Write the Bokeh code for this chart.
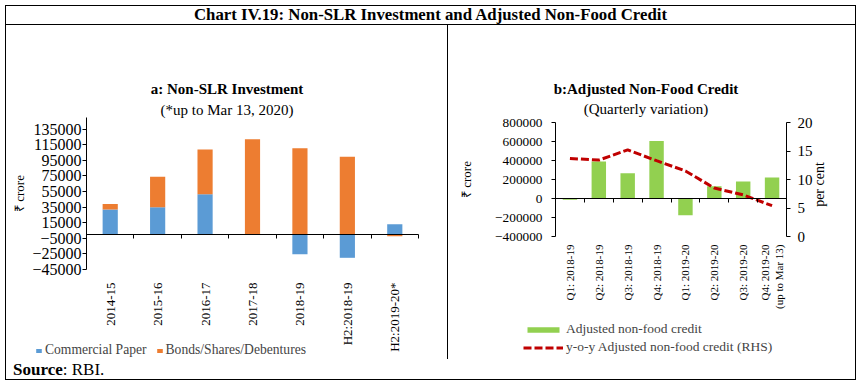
import math
from bokeh.plotting import figure
from bokeh.models import (ColumnDataSource, Range1d, LinearAxis, Legend, LegendItem,
                          Label, Div, FixedTicker, BasicTickFormatter)
from bokeh.layouts import column, row
from bokeh.embed import file_html
from bokeh.resources import INLINE

FONT = "Liberation Serif"

# ---------------- data: panel a ----------------
years_a = ["2014-15", "2015-16", "2016-17", "2017-18", "2018-19", "H2:2018-19", "H2:2019-20*"]
commercial_paper = [32000, 35000, 51500, 0, -25500, -30000, 13000]
bonds_shares_debentures = [7000, 39000, 57500, 122000, 110500, 99500, -2500]
ticks_a = [-45000, -25000, -5000, 15000, 35000, 55000, 75000, 95000, 115000, 135000]
yrange_a = (-45000, 150000)

# ---------------- data: panel b ----------------
quarters_b = ["Q1: 2018-19", "Q2: 2018-19", "Q3: 2018-19", "Q4: 2018-19",
              "Q1: 2019-20", "Q2: 2019-20", "Q3: 2019-20", "Q4: 2019-20\n(up to Mar 13)"]
adj_nonfood_credit = [-12000, 390000, 265000, 605000, -175000, 130000, 180000, 220000]
yoy_adj_nonfood = [13.7, 13.4, 15.2, 13.3, 11.5, 8.5, 7.3, 5.4]
ticks_b_left = [-400000, -200000, 0, 200000, 400000, 600000, 800000]
ticks_b_right = [0, 5, 10, 15, 20]
yrange_b = (-400000, 800000)
yrange_b_pct = (0, 20)

BLUE = "#5B9BD5"
ORANGE = "#ED7D31"
GREEN = "#92D050"
RED = "#C00000"


def stack(series_list):
    """Excel-like stacking: positives upward, negatives downward."""
    n = len(series_list[0])
    pos = [0.0] * n
    neg = [0.0] * n
    out = []
    for s in series_list:
        b, t = [], []
        for i, v in enumerate(s):
            if v >= 0:
                b.append(pos[i]); t.append(pos[i] + v); pos[i] += v
            else:
                b.append(neg[i] + v); t.append(neg[i]); neg[i] += v
        out.append((b, t))
    return out


def extend(lo, hi, p_lo, p_hi, total):
    """Range whose [lo, hi] part occupies pixels p_lo..p_hi of a frame 'total' px long."""
    k = (hi - lo) / (p_hi - p_lo)
    return Range1d(lo - p_lo * k, hi + (total - p_hi) * k)


def style_axis(ax, size="14px"):
    ax.formatter = BasicTickFormatter(use_scientific=False)
    ax.major_label_text_font = FONT
    ax.major_label_text_font_size = size
    ax.major_label_text_color = "black"
    ax.axis_label_text_font = FONT
    ax.axis_label_text_font_size = "13px"
    ax.axis_label_text_font_style = "normal"
    ax.axis_label_text_color = "black"
    ax.axis_line_color = "black"
    ax.major_tick_line_color = "black"
    ax.minor_tick_line_color = None
    ax.major_tick_in = 0
    ax.major_tick_out = 4


def label(fig, text, x, y, size="15px", style="normal", angle=0.0):
    fig.add_layout(Label(x=x, y=y, x_units="screen", y_units="screen", text=text,
                         angle=angle, text_align="center", text_baseline="middle",
                         text_font=FONT, text_font_size=size, text_font_style=style,
                         text_color="black"))


# ================= panel a =================
WA, HA = 441, 334
LA, RA, TA, BA = 80, 412, 92, 244          # plot-area box inside the canvas
n_a = len(years_a)
xs_a = [i + 0.5 for i in range(n_a)]
(cp_b, cp_t), (bd_b, bd_t) = stack([commercial_paper, bonds_shares_debentures])
src_a = ColumnDataSource(dict(x=xs_a, cp_b=cp_b, cp_t=cp_t, bd_b=bd_b, bd_t=bd_t))

pa = figure(width=WA, height=HA, output_backend="svg", toolbar_location=None,
            x_range=extend(0, n_a, LA, RA, WA),
            y_range=extend(yrange_a[0], yrange_a[1], HA - BA, HA - TA, HA),
            x_axis_type=None, y_axis_type=None, min_border=0)
pa.outline_line_color = None
pa.border_fill_color = "white"
pa.xgrid.visible = False
pa.ygrid.visible = False

r_cp = pa.vbar(x="x", bottom="cp_b", top="cp_t", width=0.32, source=src_a,
               fill_color=BLUE, line_color=None)
r_bd = pa.vbar(x="x", bottom="bd_b", top="bd_t", width=0.32, source=src_a,
               fill_color=ORANGE, line_color=None)

ya = LinearAxis(ticker=FixedTicker(ticks=ticks_a), axis_label="₹ crore",
                fixed_location=0, bounds=yrange_a)
style_axis(ya, "16px")
ya.major_label_standoff = 1
ya.axis_label_standoff = 2
pa.add_layout(ya, "left")

xa0 = LinearAxis(ticker=FixedTicker(ticks=list(range(1, n_a + 1))), fixed_location=0,
                 bounds=(0, n_a))
style_axis(xa0)
xa0.major_label_text_color = None
xa0.major_tick_out = 4
pa.add_layout(xa0, "below")

xal = LinearAxis(ticker=FixedTicker(ticks=xs_a), fixed_location=yrange_a[0], bounds=(0, n_a),
                 major_label_overrides={x: lab for x, lab in zip(xs_a, years_a)})
style_axis(xal, "13px")
xal.axis_line_color = None
xal.major_tick_line_color = None
xal.major_tick_out = 0
xal.major_label_orientation = math.pi / 2
xal.major_label_standoff = 13
pa.add_layout(xal, "below")

label(pa, "a: Non-SLR Investment", 220.5, HA - 63, style="bold")
label(pa, "(*up to Mar 13, 2020)", 220.5, HA - 84)

leg_a = Legend(items=[LegendItem(label="Commercial Paper", renderers=[r_cp]),
                      LegendItem(label="Bonds/Shares/Debentures", renderers=[r_bd])],
               orientation="horizontal", location=(29, 1),
               glyph_width=7, glyph_height=5, label_standoff=3, spacing=9,
               padding=0, margin=0, border_line_color=None, background_fill_alpha=0,
               label_text_font=FONT, label_text_font_size="13.6px", label_height=16)
pa.add_layout(leg_a, "center")

# ================= panel b =================
WB, HB = 407, 334
LB, RB, TB, BB = 107, 338, 97, 211
n_b = len(quarters_b)
xs_b = [i + 0.5 for i in range(n_b)]
src_b = ColumnDataSource(dict(x=xs_b, credit=adj_nonfood_credit, yoy=yoy_adj_nonfood))

pb = figure(width=WB, height=HB, output_backend="svg", toolbar_location=None,
            x_range=extend(0, n_b, LB, RB, WB),
            y_range=extend(yrange_b[0], yrange_b[1], HB - BB, HB - TB, HB),
            x_axis_type=None, y_axis_type=None, min_border=0)
pb.extra_y_ranges = {"pct": extend(yrange_b_pct[0], yrange_b_pct[1], HB - BB, HB - TB, HB)}
pb.outline_line_color = None
pb.border_fill_color = "white"
pb.xgrid.visible = False
pb.ygrid.visible = False

r_cr = pb.vbar(x="x", top="credit", bottom=0, width=0.5, source=src_b,
               fill_color=GREEN, line_color=None)
r_yoy = pb.line(x="x", y="yoy", source=src_b, y_range_name="pct",
                line_color=RED, line_width=3, line_dash="8 3")

yb = LinearAxis(ticker=FixedTicker(ticks=ticks_b_left), axis_label="₹ crore",
                fixed_location=0, bounds=yrange_b)
style_axis(yb, "13.3px")
yb.major_label_standoff = 9
yb.axis_label_standoff = 18
pb.add_layout(yb, "left")

yr = LinearAxis(ticker=FixedTicker(ticks=ticks_b_right), y_range_name="pct",
                fixed_location=n_b, bounds=yrange_b_pct)
style_axis(yr, "15px")
yr.major_label_standoff = 7
pb.add_layout(yr, "right")
label(pb, "per cent", 371, HB - 159, size="14px", angle=math.pi / 2)

xb0 = LinearAxis(ticker=FixedTicker(ticks=list(range(1, n_b + 1))), fixed_location=0,
                 bounds=(0, n_b))
style_axis(xb0)
xb0.major_label_text_color = None
xb0.major_tick_out = 4
pb.add_layout(xb0, "below")

xbl = LinearAxis(ticker=FixedTicker(ticks=xs_b), fixed_location=yrange_b[0], bounds=(0, n_b),
                 major_label_overrides={x: lab for x, lab in zip(xs_b, quarters_b)})
style_axis(xbl, "11px")
xbl.axis_line_color = None
xbl.major_tick_line_color = None
xbl.major_tick_out = 0
xbl.major_label_orientation = math.pi / 2
xbl.major_label_standoff = 8
pb.add_layout(xbl, "below")

label(pb, "b:Adjusted Non-Food Credit", 197.5, HB - 63, style="bold")
label(pb, "(Quarterly variation)", 197.5, HB - 83.5)

leg_b = Legend(items=[LegendItem(label="Adjusted non-food credit", renderers=[r_cr]),
                      LegendItem(label="y-o-y Adjusted non-food credit (RHS)", renderers=[r_yoy])],
               orientation="vertical", location=(75, 4),
               glyph_width=40, glyph_height=7, label_standoff=3, spacing=2,
               padding=0, margin=0, border_line_color=None, background_fill_alpha=0,
               label_text_font=FONT, label_text_font_size="13.5px", label_height=16)
pb.add_layout(leg_b, "center")

# ================= frame / table =================
def vline(h):
    return Div(text="", width=1, height=h, margin=0, styles={"background-color": "black"})


def hline(w):
    return Div(text="", width=w, height=1, margin=0, styles={"background-color": "black"})


TOTAL_W = 1 + WA + 1 + WB + 1
title_div = Div(text="Chart IV.19: Non-SLR Investment and Adjusted Non-Food Credit",
                width=TOTAL_W - 2, height=18, margin=0,
                styles={"font-family": FONT, "font-weight": "bold", "font-size": "16.8px",
                        "text-align": "center", "line-height": "18px", "color": "black"})
source_div = Div(text="<b>Source</b>: RBI.", width=TOTAL_W - 2, height=20, margin=0,
                 styles={"font-family": FONT, "font-size": "17px", "line-height": "21px",
                         "padding-left": "7px", "color": "black"})

layout = column(
    hline(TOTAL_W),
    row(vline(18), title_div, vline(18)),
    hline(TOTAL_W),
    row(vline(HA), pa, vline(HA), pb, vline(HA)),
    row(vline(20), source_div, vline(20)),
    hline(TOTAL_W),
    margin=(5, 0, 0, 5),
)

open("out.html", "w").write(file_html(layout, INLINE))
